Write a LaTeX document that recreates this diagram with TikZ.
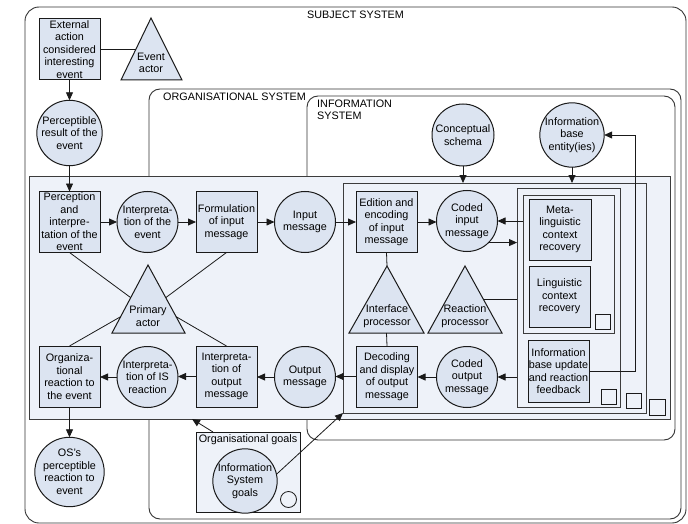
\documentclass[tikz,border=0pt]{standalone}
\usepackage{fontspec}
\setmainfont{Liberation Sans}
\usetikzlibrary{arrows.meta,calc}
\definecolor{nodefill}{HTML}{DCE4F1}
\definecolor{panelfill}{HTML}{EEF2F9}
\definecolor{edge}{HTML}{1A1A1A}
\definecolor{frameline}{HTML}{333333}

\begin{document}
\begin{tikzpicture}[x=1pt,y=-1pt,
  every node/.style={font=\fontsize{10.8}{12.5}\selectfont, text=black},
  box/.style={draw=edge, line width=1pt, fill=nodefill, rectangle, minimum width=61pt, minimum height=61pt, inner sep=0pt, outer sep=0pt, align=center},
  circ/.style={draw=edge, line width=1pt, fill=nodefill, circle, minimum size=61pt, inner sep=0pt, outer sep=0pt, align=center},
  tri/.style={draw=edge, line width=1pt, fill=nodefill, line join=miter},
  panel/.style={draw=edge!85, line width=0.8pt, fill=panelfill, rectangle, inner sep=0pt, outer sep=0pt, anchor=north west},
  tag/.style={draw=edge, line width=0.7pt, fill=panelfill, rectangle, minimum size=15pt, inner sep=0pt, outer sep=0pt, anchor=north west},
  frame/.style={draw=frameline, line width=0.9pt, rounded corners=11pt},
  link/.style={draw=edge, line width=0.8pt},
  arr/.style={link, -{Triangle[length=8pt,width=7pt]}},
  txt/.style={inner sep=0pt, align=center}
]
\useasboundingbox (0,0) rectangle (688,524);

% nested system frames
\draw[frame, rounded corners=14pt] (25,7) rectangle (686,523);
\draw[frame] (149,89) rectangle (681,519);
\draw[frame] (307,96) rectangle (675,440);
\node[txt, anchor=base west] (lsub) at (307,18.5) {SUBJECT SYSTEM};
\node[txt, anchor=base west] (lorg) at (163,101) {ORGANISATIONAL SYSTEM};
\node[txt, anchor=north west, align=left] (linf) at (317,99.5) {INFORMATION\\SYSTEM};

% panels with their corner tags
\node[panel, minimum width=641pt, minimum height=243pt] (p0) at (29,176) {};
\node[tag, minimum size=16pt] (t0) at (649,399) {};
\node[panel, minimum width=303pt, minimum height=230pt] (p1) at (343,183) {};
\node[tag] (t1) at (626,393) {};
\node[panel, minimum width=103pt, minimum height=219pt] (p2) at (517,188) {};
\node[tag] (t2) at (601,389) {};
\node[panel, minimum width=91pt, minimum height=138pt] (p3) at (523,195) {};
\node[tag] (t3) at (595,314) {};

% event origin
\node[box] (ext) at (69.5,49.5) {External\\action\\considered\\interesting\\event};
\coordinate (ea-t) at (151,18);
\coordinate (ea-l) at (121,80);
\coordinate (ea-r) at (182,80);
\path[tri] (ea-t) -- (ea-l) -- (ea-r) -- cycle;
\node[txt] (ea) at (151,63) {Event\\actor};
\coordinate (ea-w) at ($(ea-t)!0.5!(ea-l)$);
\node[circ] (perc) at (69.5,133) {Perceptible\\result of the\\event};

% input chain
\node[box] (pie) at (69.5,222) {Perception\\and\\interpre-\\tation of the\\event};
\node[circ] (iev) at (147.5,222) {Interpreta-\\tion of the\\event};
\node[box] (fim) at (226.5,222) {Formulation\\of input\\message};
\node[circ] (inm) at (305,222) {Input\\message};
\node[box] (eim) at (386.5,222) {Edition and\\encoding\\of input\\message};
\node[circ] (cim) at (467,221) {Coded\\input\\message};
\node[circ, minimum size=62pt] (cs) at (463,135) {Conceptual\\schema};
\node[circ, minimum size=62pt] (ibe) at (572,135) {Information\\base\\entity(ies)};
\node[box, minimum width=62pt] (mlc) at (560,229.5) {Meta-\\linguistic\\context\\recovery};
\node[box] (lcr) at (559.5,296.5) {Linguistic\\context\\recovery};
\node[box, minimum height=62pt] (ibu) at (558.5,371) {Information\\base update\\and reaction\\feedback};

% processors
\coordinate (pa-t) at (148,265);
\coordinate (pa-l) at (112,333);
\coordinate (pa-r) at (185,333);
\path[tri] (pa-t) -- (pa-l) -- (pa-r) -- cycle;
\node[txt] (pa) at (148,316) {Primary\\actor};
\coordinate (ip-t) at (387,266);
\coordinate (ip-l) at (349,333);
\coordinate (ip-r) at (424,333);
\path[tri] (ip-t) -- (ip-l) -- (ip-r) -- cycle;
\node[txt] (ip) at (387,316) {Interface\\processor};
\coordinate (rp-t) at (465,266);
\coordinate (rp-l) at (428,333);
\coordinate (rp-r) at (502,333);
\path[tri] (rp-t) -- (rp-l) -- (rp-r) -- cycle;
\node[txt] (rp) at (465,316) {Reaction\\processor};

% output chain
\node[box] (ore) at (69.5,376.5) {Organiza-\\tional\\reaction to\\the event};
\node[circ] (iisr) at (147.5,377) {Interpreta-\\tion of IS\\reaction};
\node[box] (iom) at (226.5,376.5) {Interpreta-\\tion of\\output\\message};
\node[circ] (outm) at (305,377) {Output\\message};
\node[box] (ddm) at (387,376.5) {Decoding\\and display\\of output\\message};
\node[circ] (com) at (467,377) {Coded\\output\\message};
\node[circ, minimum size=62pt] (osr) at (69.5,472) {OS's\\perceptible\\reaction to\\event};

% goals
\node[panel, minimum width=104pt, minimum height=80pt, draw=edge, line width=0.9pt] (ogb) at (196,432) {};
\node[txt, anchor=north] (ogl) at (248,434.5) {Organisational goals};
\node[circ, minimum size=62pt] (isg) at (245,481) {Information\\System\\goals};
\node[circle, draw=edge, line width=0.8pt, fill=panelfill, minimum size=16pt, inner sep=0pt] (ogc) at (288.5,499.5) {};

% connectors
\draw[link] (ext.east) -- (ext.east -| ea-w);
\draw[arr] (ext.south) -- (perc.north);
\draw[arr] (perc.south) -- (pie.north);
\draw[arr] (pie.east) -- (iev.west);
\draw[arr] (iev.east) -- (fim.west);
\draw[arr] (fim.east) -- (inm.west);
\draw[arr] (inm.east) -- (eim.west);
\draw[arr] (eim.east) -- (eim.east -| cim.west);
\draw[arr] (cs.south) -- (cs.south |- p1.north);
\draw[arr] (ibe.south) -- (ibe.south |- p1.north);
\draw[arr] (cim.east -| p3.west) -- (cim.east);
\draw[arr] (cim.-45) -- (cim.-45 -| p2.west);
\draw[arr] (ibu.east) -- ++(46,0) |- (ibe.east);

\coordinate (pa-wu) at ($(pa-t)!0.48!(pa-l)$);
\coordinate (pa-eu) at ($(pa-t)!0.48!(pa-r)$);
\coordinate (pa-wl) at ($(pa-t)!0.76!(pa-l)$);
\coordinate (pa-el) at ($(pa-t)!0.76!(pa-r)$);
\draw[link] (pie.south) -- (pa-wu);
\draw[link] (fim.south) -- (pa-eu);
\draw[link] (pa-wl) -- (ore.north);
\draw[link] (pa-el) -- (iom.north);

\coordinate (ip-b) at ($(ip-l)!0.5!(ip-r)$);
\draw[link] (eim.south) -- (ip-t);
\draw[link] (ip-b) -- (ddm.north);
\coordinate (rp-e) at ($(rp-t)!0.5!(rp-r)$);
\draw[link] (rp-e) -- (rp-e -| p2.west);

\draw[arr] (com.east -| p2.west) -- (com.east);
\draw[arr] (com.west) -- (com.west -| ddm.east);
\draw[arr] (ddm.west) -- (ddm.west -| outm.east);
\draw[arr] (outm.west) -- (outm.west -| iom.east);
\draw[arr] (iom.west) -- (iom.west -| iisr.east);
\draw[arr] (iisr.west) -- (iisr.west -| ore.east);
\draw[arr] (ore.south) -- (osr.north);

\draw[arr] ($(ogb.north west)+(17,0)$) -- ($(p0.south west)+(163,0)$);
\draw[arr] (isg.12) -- (p1.south west);
\end{tikzpicture}
\end{document}
